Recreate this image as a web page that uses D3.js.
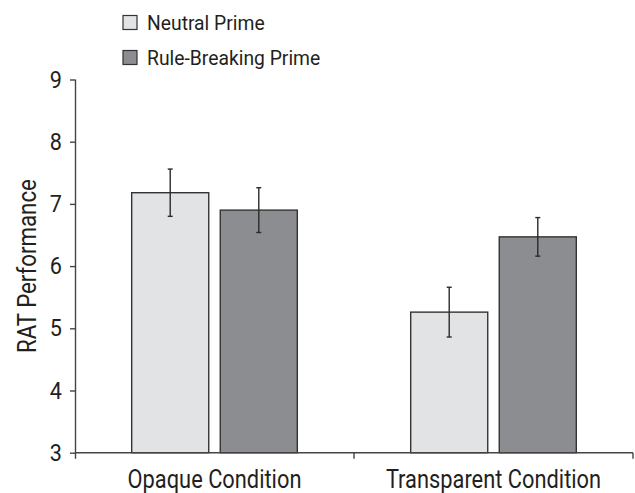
<!DOCTYPE html>
<html>
<head>
<meta charset="utf-8">
<script src="https://cdn.jsdelivr.net/npm/d3@7"></script>
<style>
	body { margin: 0; background: #fff; }
	svg text { font-family: "Liberation Sans Narrow", "Roboto", sans-serif; fill: #231f20; }
</style>
</head>
<body>
<div class="chart"></div>
<script>

var conditions = ['Opaque Condition', 'Transparent Condition'];
var primes = ['Neutral Prime', 'Rule-Breaking Prime'];
var primeColors = ['#e2e3e5', '#8c8d90'];
var means = [
	[7.18, 6.90],
	[5.26, 6.47]
];
var errors = [
	[0.38, 0.36],
	[0.40, 0.31]
];
var yTicks = [3, 4, 5, 6, 7, 8, 9];

var w = 635;
var h = 493;
var plotLeft = 75, plotRight = 633, plotTop = 79.5, plotBottom = 452.7;

var svg = d3.select('.chart')
	.append('svg')
	.attr('width', w)
	.attr('height', h);

var x = d3.scaleBand()
	.domain(conditions)
	.range([plotLeft, plotRight]);

var xInner = d3.scaleBand()
	.domain(primes)
	.range([0, x.bandwidth()])
	.paddingInner(0.13)
	.paddingOuter(0.64);

var y = d3.scaleLinear()
	.domain([3, 9])
	.range([plotBottom, plotTop]);

var color = d3.scaleOrdinal()
	.domain(primes)
	.range(primeColors);

// one row per bar
var rows = [];
conditions.forEach(function(c, i){
	primes.forEach(function(p, j){
		rows.push({cond: c, prime: p, val: means[i][j], err: errors[i][j]});
	});
});

svg.selectAll('rect.bar')
	.data(rows)
	.enter()
	.append('rect')
	.attr('class', 'bar')
	.attr('x', function(d){ return x(d.cond) + xInner(d.prime); })
	.attr('y', function(d){ return y(d.val); })
	.attr('width', xInner.bandwidth())
	.attr('height', function(d){ return plotBottom - y(d.val); })
	.attr('fill', function(d){ return color(d.prime); })
	.attr('stroke', '#333')
	.attr('stroke-width', 1.4);

// error bars
var eb = svg.selectAll('g.err')
	.data(rows)
	.enter()
	.append('g')
	.attr('class', 'err')
	.attr('stroke', '#2b2b2b')
	.attr('stroke-width', 1.4)
	.attr('transform', function(d){ return 'translate(' + (x(d.cond) + xInner(d.prime) + xInner.bandwidth()/2) + ',0)'; });

eb.append('line')
	.attr('y1', function(d){ return y(d.val + d.err); })
	.attr('y2', function(d){ return y(d.val - d.err); });
eb.append('line')
	.attr('x1', -2.5).attr('x2', 2.5)
	.attr('y1', function(d){ return y(d.val + d.err); })
	.attr('y2', function(d){ return y(d.val + d.err); });
eb.append('line')
	.attr('x1', -2.5).attr('x2', 2.5)
	.attr('y1', function(d){ return y(d.val - d.err); })
	.attr('y2', function(d){ return y(d.val - d.err); });

// y axis
var yAxis = d3.axisLeft(y)
	.tickValues(yTicks)
	.tickFormat(d3.format('d'))
	.tickSize(5)
	.tickPadding(9.5)
	.tickSizeOuter(0);

var gy = svg.append('g')
	.attr('transform', 'translate(' + plotLeft + ',0)')
	.call(yAxis);
gy.select('.domain').attr('stroke', '#444').attr('stroke-width', 1.4)
	.attr('d', 'M0.5,' + plotTop + 'V' + (plotBottom + 6));
gy.selectAll('.tick line').attr('stroke', '#444').attr('stroke-width', 1.4);
gy.selectAll('.tick text')
	.style('font-size', '24px')
	.attr('fill', '#231f20')
	.attr('transform', 'scale(0.9,1)');

// x axis: ticks on the band edges, labels at the band centres
var edges = conditions.map(function(c){ return x(c); }).concat([plotRight]);

svg.append('line')
	.attr('x1', plotLeft).attr('x2', plotRight)
	.attr('y1', plotBottom).attr('y2', plotBottom)
	.attr('stroke', '#444').attr('stroke-width', 1.4);

svg.selectAll('line.xtick')
	.data(edges.slice(1))
	.enter()
	.append('line')
	.attr('class', 'xtick')
	.attr('x1', function(d){ return d; })
	.attr('x2', function(d){ return d; })
	.attr('y1', plotBottom)
	.attr('y2', plotBottom + 6)
	.attr('stroke', '#444').attr('stroke-width', 1.4);

svg.selectAll('g.xlabel')
	.data(conditions)
	.enter()
	.append('g')
	.attr('class', 'xlabel')
	.attr('transform', function(d){ return 'translate(' + (x(d) + x.bandwidth()/2) + ',488) scale(0.84,1)'; })
	.append('text')
	.attr('text-anchor', 'middle')
	.style('font-size', '26px')
	.text(function(d){ return d; });

svg.append('text')
	.attr('transform', 'translate(36,' + ((plotTop + plotBottom)/2) + ') rotate(-90) scale(0.89,1)')
	.attr('text-anchor', 'middle')
	.style('font-size', '25px')
	.text('RAT Performance');

// legend
var legend = svg.selectAll('g.legend')
	.data(primes)
	.enter()
	.append('g')
	.attr('class', 'legend')
	.attr('transform', function(d, i){ return 'translate(123,' + (15.5 + i*35) + ')'; });

legend.append('rect')
	.attr('width', 14)
	.attr('height', 14)
	.attr('fill', function(d){ return color(d); })
	.attr('stroke', '#333')
	.attr('stroke-width', 1.2);

legend.append('text')
	.attr('transform', 'translate(24,14) scale(0.92,1)')
	.style('font-size', '21px')
	.text(function(d){ return d; });

</script>
</body>
</html>
